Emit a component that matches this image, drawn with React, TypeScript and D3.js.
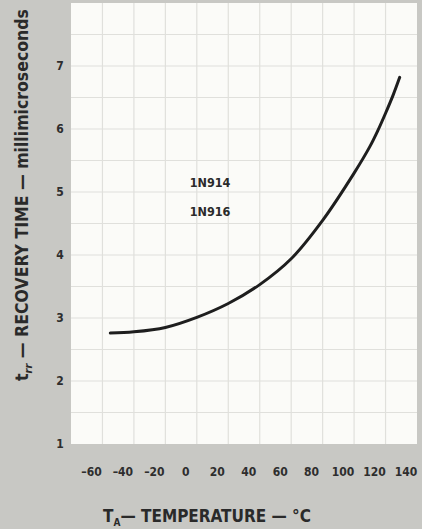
import React from "react";
import * as d3 from "d3";

const temps = [-55, -40, -20, 0, 20, 40, 60, 80, 100, 110, 115, 120, 125, 129];
const recovery = [2.76, 2.78, 2.85, 3.01, 3.23, 3.53, 3.94, 4.55, 5.3, 5.72, 5.97, 6.25, 6.55, 6.82];
const xTickLabels = [-60, -40, -20, 0, 20, 40, 60, 80, 100, 120, 140];
const yTickLabels = [1, 2, 3, 4, 5, 6, 7];
const xGrid = [-60, -40, -20, 0, 20, 40, 60, 80, 100, 120];
const yGrid = [1.5, 2, 2.5, 3, 3.5, 4, 4.5, 5, 5.5, 6, 6.5, 7, 7.5];
const devices = ["1N914", "1N916"];

const W = 422;
const H = 529;
const left = 71;
const right = 417;
const top = 3;
const bottom = 444;

export default function App() {
  const x = d3.scaleLinear().domain([-80, 140]).range([left, right]);
  const y = d3.scaleLinear().domain([1, 8]).range([bottom, top]);
  const line = d3
    .line<number>()
    .x((_, i) => x(temps[i]))
    .y((d) => y(d))
    .curve(d3.curveCatmullRom.alpha(0.5));
  const font = "'DejaVu Sans Condensed', 'Liberation Sans Narrow', sans-serif";
  return (
    <svg
      width={W}
      height={H}
      style={{ position: "absolute", left: 0, top: 0, background: "#c7c7c3" }}
    >
      <rect x={0} y={0} width={W} height={H} fill="#c8c8c4" />
      <rect x={left} y={top} width={right - left} height={bottom - top} fill="#fbfbf8" />
      {xGrid.map((t) => (
        <line key={"gx" + t} x1={x(t)} x2={x(t)} y1={top} y2={bottom} stroke="#e0e0dc" strokeWidth={1.2} />
      ))}
      {yGrid.map((v) => (
        <line key={"gy" + v} x1={left} x2={right} y1={y(v)} y2={y(v)} stroke="#e0e0dc" strokeWidth={1.2} />
      ))}
      <path d={line(recovery) || ""} fill="none" stroke="#1e1e1e" strokeWidth={3} strokeLinecap="round" />
      {devices.map((d, i) => (
        <text
          key={d}
          x={210}
          y={187 + i * 29}
          textAnchor="middle"
          fontFamily={font}
          fontWeight="bold"
          fontSize={12.5}
          fill="#2a2a2a"
        >
          {d}
        </text>
      ))}
      {xTickLabels.map((t) => (
        <text
          key={"xt" + t}
          x={x(t) - 11}
          y={476}
          textAnchor="middle"
          fontFamily={font}
          fontWeight="bold"
          fontSize={12}
          fill="#2e2e2e"
        >
          {t < 0 ? "\u2013" + Math.abs(t) : t}
        </text>
      ))}
      {yTickLabels.map((v) => (
        <text
          key={"yt" + v}
          x={60}
          y={y(v) + 4}
          textAnchor="middle"
          fontFamily={font}
          fontWeight="bold"
          fontSize={12}
          fill="#2e2e2e"
        >
          {v}
        </text>
      ))}
      <text
        x={207}
        y={522}
        textAnchor="middle"
        fontFamily={font}
        fontWeight="bold"
        fontSize={17}
        fill="#2a2a2a"
      >
        T<tspan fontSize={10} dy={4}>A</tspan>
        <tspan dy={-4}>{"\u2014 TEMPERATURE \u2014 \u00b0C"}</tspan>
      </text>
      <text
        transform={`translate(28, ${195}) rotate(-90)`}
        textAnchor="middle"
        fontFamily={font}
        fontWeight="bold"
        fontSize={17.5}
        fill="#2a2a2a"
      >
        t<tspan fontSize={11} dy={4} fontStyle="italic">rr</tspan>
        <tspan dy={-4}>{" \u2014 RECOVERY TIME \u2014 millimicroseconds"}</tspan>
      </text>
    </svg>
  );
}
